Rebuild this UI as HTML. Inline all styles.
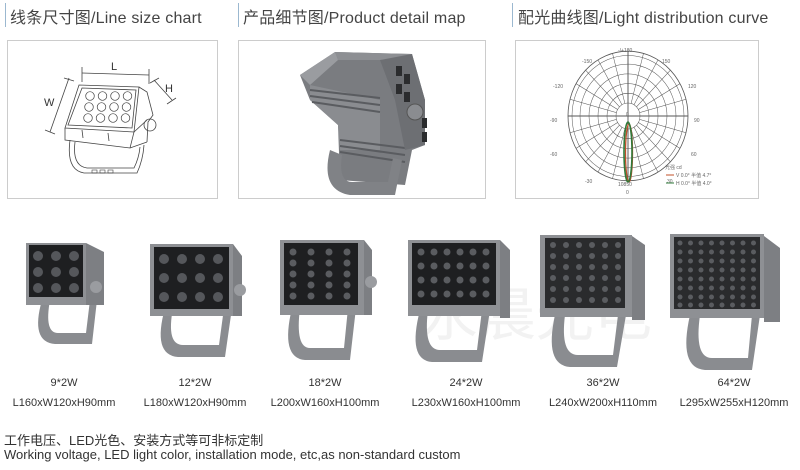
<!DOCTYPE html>
<html><head><meta charset="utf-8"><style>
html,body{margin:0;padding:0;background:#fff;}
body{width:800px;height:470px;overflow:hidden;position:relative;font-family:"Liberation Sans","Noto Sans CJK SC",sans-serif;}
.h{position:absolute;top:4px;font-size:16px;color:#444;white-space:nowrap;letter-spacing:0.2px}
.bar{position:absolute;top:3px;width:1px;height:24px;background:#9bb8d0}
.box{position:absolute;border:1px solid #ccc;background:#fff}
.cap{position:absolute;font-size:11px;color:#333;text-align:center;white-space:nowrap;transform:translateX(-50%);line-height:20px}
.ft{position:absolute;left:4px;font-size:13px;color:#333;white-space:nowrap}
</style></head><body>
<div class="bar" style="left:5px"></div>
<div class="bar" style="left:238px"></div>
<div class="bar" style="left:512px"></div>
<div class="h" style="left:10px">线条尺寸图/Line size chart</div>
<div class="h" style="left:243px">产品细节图/Product detail map</div>
<div class="h" style="left:518px">配光曲线图/Light distribution curve</div>

<div class="box" style="left:7px;top:40px;width:209px;height:157px"></div>
<div class="box" style="left:238px;top:40px;width:246px;height:157px"></div>
<div class="box" style="left:515px;top:40px;width:242px;height:157px"></div>

<svg width="800" height="470" style="position:absolute;left:0;top:0" xmlns="http://www.w3.org/2000/svg">
<defs>
<g id="sp">
<line x1="12" y1="0" x2="60" y2="0"/><line x1="11.6" y1="3.1" x2="58" y2="15.5"/><line x1="10.4" y1="6" x2="52" y2="30"/><line x1="8.5" y1="8.5" x2="42.4" y2="42.4"/><line x1="6" y1="10.4" x2="30" y2="52"/><line x1="3.1" y1="11.6" x2="15.5" y2="58"/>
</g>
<g id="r3"><circle cx="293" cy="0" r="3.5"/><circle cx="311" cy="0" r="3.5"/><circle cx="329" cy="0" r="3.5"/><circle cx="347" cy="0" r="3.5"/></g>
<g id="r4"><circle cx="421" cy="0" r="3.5"/><circle cx="434" cy="0" r="3.5"/><circle cx="447" cy="0" r="3.5"/><circle cx="460" cy="0" r="3.5"/><circle cx="473" cy="0" r="3.5"/><circle cx="486" cy="0" r="3.5"/></g>
<g id="r5"><circle cx="553" cy="0" r="3"/><circle cx="566" cy="0" r="3"/><circle cx="579" cy="0" r="3"/><circle cx="592" cy="0" r="3"/><circle cx="605" cy="0" r="3"/><circle cx="618" cy="0" r="3"/></g>
<g id="r6"><circle cx="680" cy="0" r="2.5"/><circle cx="690.5" cy="0" r="2.5"/><circle cx="701" cy="0" r="2.5"/><circle cx="711.5" cy="0" r="2.5"/><circle cx="722" cy="0" r="2.5"/><circle cx="732.5" cy="0" r="2.5"/><circle cx="743" cy="0" r="2.5"/><circle cx="753.5" cy="0" r="2.5"/></g>
<g id="lr"><circle cx="0" cy="0" r="4.3"/><circle cx="12.5" cy="0" r="4.3"/><circle cx="25" cy="0" r="4.3"/><circle cx="37.5" cy="0" r="4.3"/></g>
</defs>

<!-- line drawing -->
<g fill="none" stroke="#444" stroke-width="0.8">
<line x1="82" y1="73" x2="149" y2="75"/><line x1="82" y1="67" x2="82" y2="82"/><line x1="149" y1="69" x2="149" y2="84"/>
<line x1="154" y1="80" x2="172" y2="100"/><line x1="150" y1="83" x2="159" y2="78"/><line x1="167" y1="104" x2="176" y2="98"/>
<line x1="69" y1="78" x2="50" y2="132"/><line x1="64" y1="78" x2="74" y2="81"/><line x1="45" y1="130" x2="55" y2="134"/>
<path d="M79 85 L139 87 L134 132 L65 128 Z"/>
<path d="M82 88 L136 90 L132 128 L68 125 Z"/>
<path d="M139 87 L147 92 L153 115 L148 122 L147 142"/>
<path d="M134 132 L147 120"/>
<path d="M65 128 L65 140 L130 148 L147 142"/>
<path d="M130 148 L134 132"/>
<path d="M70 140 Q66 170 84 173 L137 173 Q143 160 144 145"/>
<path d="M75 142 Q72 166 87 168 L134 168 Q139 158 140 147"/>
<line x1="82" y1="130" x2="83" y2="138"/><line x1="108" y1="133" x2="109" y2="141"/>
<circle cx="150" cy="125" r="6"/>
<g stroke-width="0.6">
<rect x="92" y="170" width="5" height="3"/><rect x="100" y="170" width="5" height="3"/><rect x="108" y="170" width="5" height="3"/>
</g>
<g stroke-width="0.7">
<use href="#lr" x="90" y="96"/><use href="#lr" x="89" y="107"/><use href="#lr" x="88" y="118"/>
</g></g>
<text x="111" y="70" font-size="11" fill="#333" font-family="Liberation Sans">L</text>
<text x="165" y="92" font-size="11" fill="#333" font-family="Liberation Sans">H</text>
<text x="44" y="106" font-size="11" fill="#333" font-family="Liberation Sans">W</text>

<!-- product detail -->
<path d="M300 75 L335 52 L412 54 L425 100 L425 145 L412 150 L405 185 L340 180 L338 125 L310 100 Z" fill="#7a7c80"/>
<path d="M335 52 L412 54 L410 60 L338 60 Z" fill="#8d8f93"/>
<path d="M300 75 L335 52 L338 60 L310 85 Z" fill="#9a9ca0"/>
<path d="M310 85 L380 100 L380 150 L340 150 L338 125 L310 100Z" fill="#8a8c90"/>
<g stroke="#5a5c60" stroke-width="2"><line x1="310" y1="90" x2="380" y2="98"/><line x1="310" y1="96" x2="380" y2="105"/><line x1="312" y1="102" x2="380" y2="112"/><line x1="340" y1="140" x2="405" y2="148"/><line x1="340" y1="146" x2="405" y2="155"/><line x1="340" y1="152" x2="405" y2="162"/></g>
<path d="M380 60 L412 54 L425 100 L425 145 L405 150 L395 100 Z" fill="#6d6f73"/>
<g fill="#2b2c2e"><rect x="396" y="66" width="6" height="10"/><rect x="404" y="74" width="6" height="10"/><rect x="396" y="84" width="6" height="10"/><rect x="404" y="92" width="6" height="10"/><rect x="422" y="118" width="5" height="10"/><rect x="422" y="132" width="5" height="10"/></g>
<circle cx="415" cy="112" r="8" fill="#8a8c90" stroke="#555"/>
<path d="M330 150 Q320 190 350 195 L395 195 L402 160 L393 158 L388 182 L352 182 Q338 182 342 155 Z" fill="#808286"/>

<!-- polar chart -->
<g fill="none" stroke="#555" stroke-width="0.5" transform="translate(628,116) scale(1,1.08)">
<circle r="12"/><circle r="21"/><circle r="30"/><circle r="39"/><circle r="48"/><circle r="56"/><circle r="60" stroke-width="0.8"/>
<use href="#sp"/><use href="#sp" transform="rotate(90)"/><use href="#sp" transform="rotate(180)"/><use href="#sp" transform="rotate(270)"/>
<line x1="0" y1="-60" x2="0" y2="60" stroke-width="0.9"/><line x1="-60" y1="0" x2="60" y2="0" stroke-width="0.9"/>
</g>
<ellipse cx="629" cy="153" rx="3.5" ry="29" fill="none" stroke="#c0502a" stroke-width="1.3"/>
<ellipse cx="628" cy="152" rx="4" ry="30" fill="none" stroke="#2f7a3a" stroke-width="1.6"/>
<g font-family="Liberation Sans" font-size="5" fill="#666">
<text x="618" y="52">-/+180</text><text x="582" y="63">-150</text><text x="662" y="63">150</text>
<text x="553" y="88">-120</text><text x="688" y="88">120</text><text x="550" y="122">-90</text><text x="694" y="122">90</text>
<text x="550" y="156">-60</text><text x="691" y="156">60</text><text x="585" y="183">-30</text><text x="667" y="183">30</text>
<text x="626" y="116">0</text><text x="626" y="194">0</text><text x="618" y="186">10850</text>
<text x="665" y="169">光强 cd</text><text x="676" y="177">V 0.0° 半值 4.7°</text><text x="676" y="185">H 0.0° 半值 4.0°</text>
</g>
<line x1="666" y1="175" x2="674" y2="175" stroke="#c0502a"/><line x1="666" y1="183" x2="674" y2="183" stroke="#2f7a3a"/>

<!-- watermark -->
<text x="420" y="335" font-size="58" fill="#e6e6e6" opacity="0.5" font-family="Noto Sans CJK SC,sans-serif">永晨光电</text>

<!-- lamp 1 -->
<path d="M42 300 Q30 342 55 344 L92 344 L97 300 L90 300 L86 333 L58 333 Q44 333 50 300Z" fill="#8a8c90"/>
<rect x="26" y="243" width="60" height="62" fill="#8e9094"/><path d="M86 243 L104 252 L104 305 L86 305Z" fill="#7d7f83"/>
<rect x="29" y="245" width="54" height="52" fill="#1e1f21"/><circle cx="96" cy="287" r="6" fill="#9a9ca0"/>
<!-- lamp 2 -->
<path d="M165 308 Q152 355 178 357 L225 357 L232 308 L224 308 L219 345 L183 345 Q166 345 173 308Z" fill="#8a8c90"/>
<rect x="150" y="244" width="83" height="72" fill="#8e9094"/><path d="M233 244 L242 256 L242 316 L233 316Z" fill="#7d7f83"/>
<rect x="154" y="247" width="75" height="62" fill="#1e1f21"/><circle cx="240" cy="290" r="6" fill="#9a9ca0"/>
<!-- lamp 3 -->
<path d="M292 308 Q280 358 305 360 L350 360 L356 308 L348 308 L344 348 L310 348 Q295 348 300 308Z" fill="#8a8c90"/>
<rect x="280" y="240" width="84" height="75" fill="#8e9094"/><path d="M364 240 L372 250 L372 315 L364 315Z" fill="#7d7f83"/>
<rect x="284" y="243" width="74" height="62" fill="#1e1f21"/><circle cx="371" cy="282" r="6" fill="#9a9ca0"/>
<!-- lamp 4 -->
<path d="M420 310 Q407 360 432 362 L482 362 L490 310 L482 310 L477 350 L440 350 Q423 350 428 310Z" fill="#8a8c90"/>
<rect x="408" y="240" width="92" height="76" fill="#8e9094"/><path d="M500 240 L510 250 L510 318 L500 318Z" fill="#7d7f83"/>
<rect x="412" y="243" width="84" height="62" fill="#1e1f21"/>
<!-- lamp 5 -->
<path d="M555 315 Q544 365 570 367 L617 367 L626 315 L618 315 L613 355 L578 355 Q560 355 565 315Z" fill="#8a8c90"/>
<rect x="540" y="235" width="92" height="82" fill="#8e9094"/><path d="M632 236 L645 245 L645 320 L632 320Z" fill="#7d7f83"/>
<rect x="545" y="238" width="80" height="70" fill="#2a2b2d"/>
<!-- lamp 6 -->
<path d="M690 315 Q678 368 705 370 L752 370 L760 315 L752 315 L748 358 L712 358 Q694 358 700 315Z" fill="#8a8c90"/>
<rect x="670" y="234" width="94" height="84" fill="#8e9094"/><path d="M764 236 L780 248 L780 322 L764 322Z" fill="#7d7f83"/>
<rect x="674" y="237" width="86" height="72" fill="#2a2b2d"/>

<g fill="#55575b">
<circle cx="38" cy="256" r="5"/><circle cx="56" cy="256" r="5"/><circle cx="74" cy="256" r="5"/>
<circle cx="38" cy="272" r="5"/><circle cx="56" cy="272" r="5"/><circle cx="74" cy="272" r="5"/>
<circle cx="38" cy="288" r="5"/><circle cx="56" cy="288" r="5"/><circle cx="74" cy="288" r="5"/>
<circle cx="164" cy="259" r="5"/><circle cx="182" cy="259" r="5"/><circle cx="200" cy="259" r="5"/><circle cx="218" cy="259" r="5"/>
<circle cx="164" cy="278" r="5"/><circle cx="182" cy="278" r="5"/><circle cx="200" cy="278" r="5"/><circle cx="218" cy="278" r="5"/>
<circle cx="164" cy="297" r="5"/><circle cx="182" cy="297" r="5"/><circle cx="200" cy="297" r="5"/><circle cx="218" cy="297" r="5"/>
</g>
<g fill="#5a5c60">
<use href="#r3" y="252"/><use href="#r3" y="263"/><use href="#r3" y="274"/><use href="#r3" y="285"/><use href="#r3" y="296"/>
<use href="#r4" y="252"/><use href="#r4" y="266"/><use href="#r4" y="280"/><use href="#r4" y="294"/>
<use href="#r5" y="245"/><use href="#r5" y="256"/><use href="#r5" y="267"/><use href="#r5" y="278"/><use href="#r5" y="289"/><use href="#r5" y="300"/>
<use href="#r6" y="243"/><use href="#r6" y="252"/><use href="#r6" y="261"/><use href="#r6" y="270"/><use href="#r6" y="279"/><use href="#r6" y="288"/><use href="#r6" y="297"/><use href="#r6" y="305"/>
</g>
</svg>

<div class="cap" style="left:64px;top:373px">9*2W<br>L160xW120xH90mm</div>
<div class="cap" style="left:195px;top:373px">12*2W<br>L180xW120xH90mm</div>
<div class="cap" style="left:325px;top:373px">18*2W<br>L200xW160xH100mm</div>
<div class="cap" style="left:466px;top:373px">24*2W<br>L230xW160xH100mm</div>
<div class="cap" style="left:603px;top:373px">36*2W<br>L240xW200xH110mm</div>
<div class="cap" style="left:734px;top:373px">64*2W<br>L295xW255xH120mm</div>

<div class="ft" style="top:430px">工作电压、LED光色、安装方式等可非标定制</div>
<div class="ft" style="top:447px">Working voltage, LED light color, installation mode, etc,as non-standard custom</div>
</body></html>
